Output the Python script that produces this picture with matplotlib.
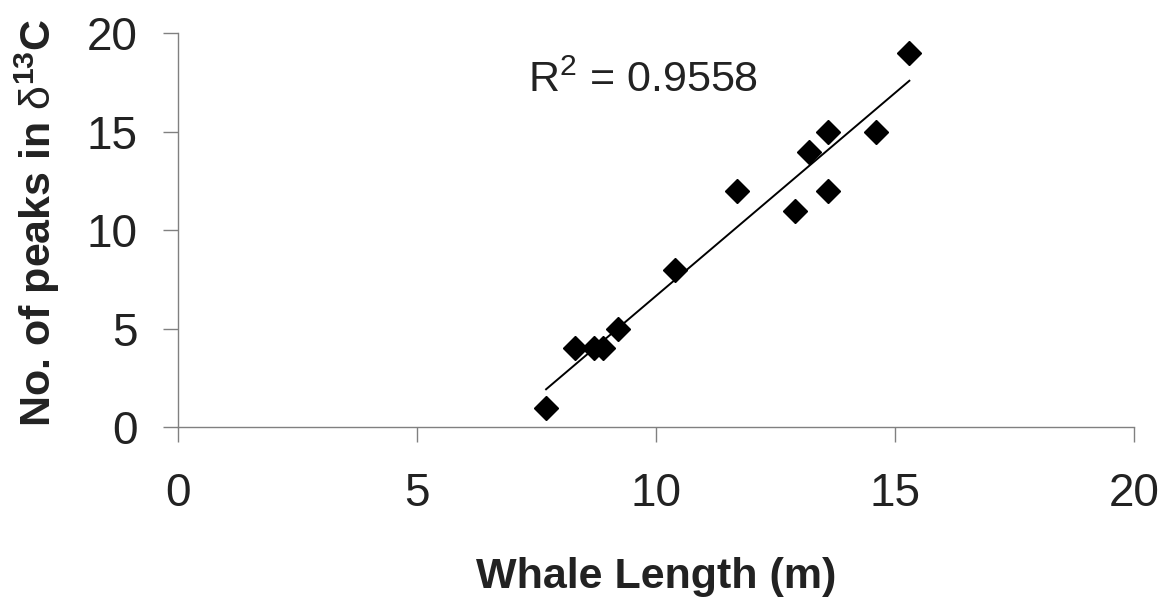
import numpy as np
import matplotlib
matplotlib.use("Agg")
import matplotlib.pyplot as plt

# Data
whale_length = [7.7, 8.3, 8.7, 8.9, 9.2, 10.4, 11.7, 12.9, 13.2, 13.6, 13.6, 14.6, 15.3]
num_peaks = [1, 4, 4, 4, 5, 8, 12, 11, 14, 15, 12, 15, 19]
x_ticks = [0, 5, 10, 15, 20]
y_ticks = [0, 5, 10, 15, 20]
r2_label = "R$^2$ = 0.9558"

plt.rcParams['font.family'] = ['Liberation Sans', 'DejaVu Sans']
plt.rcParams['mathtext.fontset'] = 'custom'
plt.rcParams['mathtext.rm'] = 'Liberation Sans'
plt.rcParams['mathtext.bf'] = 'Liberation Sans:bold'
plt.rcParams['mathtext.it'] = 'Liberation Sans:italic'

fig = plt.figure(figsize=(11.65, 6.09), dpi=100)
ax = fig.add_axes([0.1528, 0.2984, 0.8206, 0.6469])

x = np.array(whale_length)
y = np.array(num_peaks)
slope, intercept = np.polyfit(x, y, 1)
xf = np.array([x.min(), x.max()])
ax.plot(xf, slope * xf + intercept, color='black', lw=1.4, zorder=2)
ax.plot(x, y, linestyle='none', marker='D', markersize=12, color='black', zorder=3)

ax.set_xlim(0, 20)
ax.set_ylim(0, 20)
ax.set_xticks(x_ticks)
ax.set_yticks(y_ticks)
ax.set_xticklabels([str(t) for t in x_ticks])
ax.set_yticklabels([str(t) for t in y_ticks])

for s in ['top', 'right']:
    ax.spines[s].set_visible(False)
for s in ['left', 'bottom']:
    ax.spines[s].set_color('#808080')
    ax.spines[s].set_linewidth(1.0)
ax.tick_params(axis='both', direction='out', length=11, width=1.0, color='#808080',
               labelsize=33, labelcolor='#222222')
ax.tick_params(axis='x', pad=21)
ax.tick_params(axis='y', pad=18)

ax.set_xlabel('Whale Length (m)', fontsize=31, fontweight='bold', color='#222222')
ax.set_ylabel(r'No. of peaks in $\mathrm{\delta}^{\mathbf{13}}\mathbf{C}$', fontsize=31,
              fontweight='bold', color='#222222')
ax.xaxis.set_label_coords(0.5, -0.329)
ax.yaxis.set_label_coords(-0.121, 0.52)

ax.text(7.32, 17.0, r2_label, fontsize=31, va='baseline', ha='left', color='#222222')

fig.savefig('out.png', dpi=100)
